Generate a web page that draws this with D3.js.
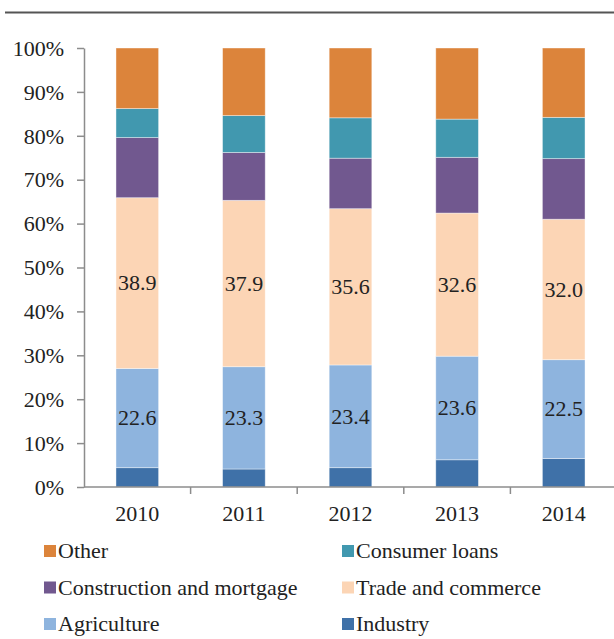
<!DOCTYPE html>
<html>
<head>
<meta charset="utf-8">
<script src="https://cdn.jsdelivr.net/npm/d3@7"></script>
</head>
<body style="margin:0">
<svg id="chart" width="614" height="639" font-family="Liberation Serif"></svg>
<script>
var years = ["2010", "2011", "2012", "2013", "2014"];
var industry     = [4.4, 4.1, 4.4, 6.2, 6.5];
var agriculture  = [22.6, 23.3, 23.4, 23.6, 22.5];
var trade        = [38.9, 37.9, 35.6, 32.6, 32.0];
var construction = [13.7, 10.9, 11.5, 12.7, 13.8];
var consumer     = [6.6, 8.4, 9.2, 8.7, 9.4];
var other        = [13.8, 15.4, 15.9, 16.2, 15.8];
var yTicks = [0, 10, 20, 30, 40, 50, 60, 70, 80, 90, 100];

// stacking order bottom -> top
var series = [
  { name: "Industry", values: industry, color: "#3f71a8", label: false },
  { name: "Agriculture", values: agriculture, color: "#8eb4de", label: true },
  { name: "Trade and commerce", values: trade, color: "#fcd5b5", label: true },
  { name: "Construction and mortgage", values: construction, color: "#71588f", label: false },
  { name: "Consumer loans", values: consumer, color: "#4198af", label: false },
  { name: "Other", values: other, color: "#dc843b", label: false }
];

var svg = d3.select("#chart");
var margin = { top: 48, left: 84, bottom: 487 };

// rule across the top
svg.append("line")
  .attr("x1", 5).attr("x2", 614)
  .attr("y1", 12.5).attr("y2", 12.5)
  .attr("stroke", "#555").attr("stroke-width", 2);

var x = d3.scaleBand()
  .domain(years)
  .range([margin.left, margin.left + 533])
  .paddingInner(0.6)
  .paddingOuter(0.3);

var y = d3.scaleLinear()
  .domain([0, 100])
  .range([margin.bottom, margin.top]);

var rows = years.map(function(yr, i) {
  var r = { year: yr };
  series.forEach(function(s) { r[s.name] = s.values[i]; });
  return r;
});

var stacked = d3.stack().keys(series.map(function(s) { return s.name; }))(rows);

var layers = svg.append("g")
  .selectAll("g")
  .data(stacked)
  .enter()
  .append("g")
  .attr("fill", function(d, i) { return series[i].color; });

layers.selectAll("rect")
  .data(function(d) { return d; })
  .enter()
  .append("rect")
  .attr("x", function(d) { return x(d.data.year); })
  .attr("width", x.bandwidth())
  .attr("y", function(d) { return y(d[1]); })
  .attr("height", function(d) { return y(d[0]) - y(d[1]); })
  .attr("stroke", "#fff")
  .attr("stroke-opacity", 0.5)
  .attr("stroke-width", 0.8);

// value labels on agriculture and trade
stacked.forEach(function(layer, i) {
  if (!series[i].label) return;
  svg.selectAll("text.lbl" + i)
    .data(layer)
    .enter()
    .append("text")
    .attr("class", "lbl" + i)
    .attr("x", function(d) { return x(d.data.year) + x.bandwidth() / 2; })
    .attr("y", function(d) { return y((d[0] + d[1]) / 2); })
    .attr("dy", "0.33em")
    .attr("text-anchor", "middle")
    .attr("font-family", "Liberation Serif")
    .attr("font-size", 22)
    .attr("fill", "#222")
    .text(function(d) { return d3.format(".1f")(d[1] - d[0]); });
});

// y axis
var yAxis = svg.append("g")
  .attr("transform", "translate(" + margin.left + ",0)")
  .call(d3.axisLeft(y).tickValues(yTicks).tickSize(7).tickSizeOuter(0)
    .tickFormat(function(d) { return d + "%"; }));
yAxis.attr("font-family", "Liberation Serif").attr("font-size", 22);
yAxis.selectAll("path, line").attr("stroke", "#8c8c8c").attr("stroke-width", 1.5);
yAxis.selectAll("text")
  .attr("x", -20)
  .attr("dy", "0.33em")
  .attr("font-family", "Liberation Serif")
  .attr("font-size", 22)
  .attr("fill", "#222");

// x axis, ticks sit on the category boundaries
var step = x.step();
svg.append("line")
  .attr("x1", margin.left).attr("x2", 614)
  .attr("y1", margin.bottom).attr("y2", margin.bottom)
  .attr("stroke", "#8c8c8c").attr("stroke-width", 1.5);
svg.selectAll("line.xtick")
  .data(years.slice(1))
  .enter()
  .append("line")
  .attr("class", "xtick")
  .attr("x1", function(d) { return x(d) - (step - x.bandwidth()) / 2; })
  .attr("x2", function(d) { return x(d) - (step - x.bandwidth()) / 2; })
  .attr("y1", margin.bottom).attr("y2", margin.bottom + 7)
  .attr("stroke", "#8c8c8c").attr("stroke-width", 1.5);
svg.selectAll("text.xlab")
  .data(years)
  .enter()
  .append("text")
  .attr("class", "xlab")
  .attr("x", function(d) { return x(d) + x.bandwidth() / 2; })
  .attr("y", 521)
  .attr("text-anchor", "middle")
  .attr("font-family", "Liberation Serif")
  .attr("font-size", 22)
  .attr("fill", "#222")
  .text(function(d) { return d; });

// legend
var legendOrder = ["Other", "Consumer loans", "Construction and mortgage", "Trade and commerce", "Agriculture", "Industry"];
var lx = function(i) { return i % 2 === 0 ? 44 : 342; };
var ly = function(i) { return 551 + Math.floor(i / 2) * 36.5; };
svg.selectAll("rect.key")
  .data(legendOrder)
  .enter()
  .append("rect")
  .attr("class", "key")
  .attr("x", function(d, i) { return lx(i); })
  .attr("y", function(d, i) { return ly(i) - 6; })
  .attr("width", 12).attr("height", 12)
  .attr("fill", function(d) {
    return series.filter(function(s) { return s.name === d; })[0].color;
  });
svg.selectAll("text.key")
  .data(legendOrder)
  .enter()
  .append("text")
  .attr("class", "key")
  .attr("x", function(d, i) { return lx(i) + 14; })
  .attr("y", function(d, i) { return ly(i); })
  .attr("dy", "0.33em")
  .attr("font-family", "Liberation Serif")
  .attr("font-size", 22)
  .attr("fill", "#222")
  .text(function(d) { return d; });
</script>
</body>
</html>
